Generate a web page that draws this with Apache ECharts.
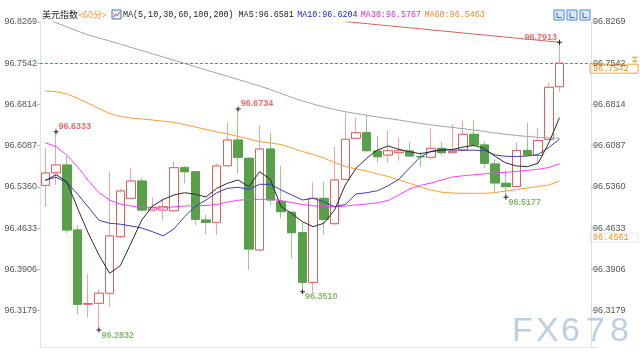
<!DOCTYPE html>
<html><head><meta charset="utf-8">
<script src="https://cdn.jsdelivr.net/npm/echarts@6/dist/echarts.min.js"></script>
<style>html,body{margin:0;padding:0;background:#fff}#c{width:640px;height:360px}</style>
</head><body><div id="c"></div>
<script>
// ---- data ----
const categories = Array.from({length: 52}, (_, i) => String(i + 1));
const opens  = [96.5387,96.5610,96.5746,96.4599,96.3290,96.3305,96.3482,96.4480,96.5158,96.5463,96.4951,96.4951,96.4939,96.5698,96.5627,96.4775,96.4734,96.5733,96.6187,96.5864,96.4246,96.6028,96.5098,96.4911,96.4551,96.3676,96.5158,96.4710,96.5493,96.6217,96.6316,96.5993,96.5922,96.5963,96.5993,96.5895,96.5882,96.6040,96.5963,96.6010,96.6287,96.6099,96.5763,96.5423,96.5366,96.6003,96.5913,96.6199,96.7127];
const closes = [96.5604,96.5746,96.4599,96.3288,96.3300,96.3482,96.4493,96.5287,96.5463,96.4951,96.4999,96.5010,96.5698,96.5627,96.4787,96.4734,96.5728,96.6187,96.5881,96.4263,96.6028,96.5128,96.4922,96.4551,96.3676,96.5158,96.4787,96.5481,96.6199,96.6316,96.5998,96.5892,96.5998,96.5998,96.5905,96.5890,96.6040,96.5963,96.5987,96.6287,96.6099,96.5776,96.5428,96.5363,96.6003,96.5922,96.6178,96.7117,96.7542];
const lows   = [96.5004,96.5393,96.4546,96.3116,96.3058,96.2832,96.3245,96.4452,96.5140,96.4922,96.4922,96.4757,96.4920,96.5423,96.4687,96.4528,96.4510,96.5710,96.5599,96.3893,96.4230,96.5040,96.4805,96.4099,96.3510,96.3482,96.4510,96.4690,96.5470,96.6210,96.5980,96.5776,96.5776,96.5822,96.5900,96.5705,96.5834,96.5922,96.5955,96.6000,96.6070,96.5687,96.5260,96.5177,96.5360,96.5910,96.5781,96.6180,96.7039];
const highs  = [96.6046,96.6333,96.5904,96.4687,96.3822,96.3552,96.5627,96.5317,96.5687,96.5522,96.5176,96.5163,96.5804,96.5728,96.5640,96.4863,96.5776,96.6499,96.6734,96.5880,96.6451,96.6316,96.5728,96.4940,96.4734,96.5440,96.5451,96.6069,96.6668,96.6580,96.6628,96.6263,96.6363,96.6235,96.6146,96.5980,96.6393,96.6151,96.6469,96.6531,96.6531,96.6169,96.5852,96.5657,96.6152,96.6496,96.6393,96.7198,96.7913];

const ma5   = [96.5469,96.5575,96.5451,96.4987,96.4546,96.4158,96.3835,96.3969,96.4369,96.4775,96.5022,96.5137,96.5216,96.5257,96.5229,96.5181,96.5335,96.5423,96.5481,96.5363,96.5627,96.5493,96.5010,96.4890,96.4745,96.4657,96.4717,96.4952,96.5393,96.5687,96.5864,96.6010,96.6081,96.6023,96.5980,96.5945,96.5980,96.6010,96.6019,96.6063,96.6090,96.6037,96.5896,96.5781,96.5728,96.5716,96.5776,96.6134,96.6581];
const ma10  = [96.5481,96.5529,96.5437,96.5234,96.5005,96.4770,96.4717,96.4701,96.4669,96.4634,96.4569,96.4496,96.4616,96.4833,96.5017,96.5128,96.5255,96.5335,96.5352,96.5317,96.5405,96.5405,96.5305,96.5216,96.5128,96.5158,96.5098,96.5010,96.5049,96.5234,96.5257,96.5292,96.5380,96.5493,96.5693,96.5887,96.5987,96.6016,96.6010,96.6007,96.6007,96.6002,96.5922,96.5899,96.5896,96.5904,96.5931,96.6054,96.6204];
const ma30  = [96.6139,96.6069,96.5922,96.5716,96.5472,96.5260,96.5128,96.5054,96.5022,96.4999,96.4987,96.4987,96.5008,96.5022,96.5031,96.5031,96.5049,96.5093,96.5123,96.5137,96.5140,96.5140,96.5119,96.5084,96.5049,96.5026,96.5013,96.5010,96.5022,96.5040,96.5057,96.5080,96.5119,96.5216,96.5322,96.5384,96.5428,96.5481,96.5534,96.5555,96.5573,96.5590,96.5605,96.5617,96.5631,96.5652,96.5670,96.5701,96.5767];
const ma60  = [96.7051,96.7039,96.6999,96.6923,96.6834,96.6743,96.6654,96.6602,96.6575,96.6557,96.6540,96.6519,96.6496,96.6460,96.6416,96.6372,96.6328,96.6293,96.6249,96.6204,96.6157,96.6134,96.6107,96.6046,96.5984,96.5931,96.5869,96.5790,96.5719,96.5675,96.5640,96.5587,96.5543,96.5481,96.5423,96.5357,96.5305,96.5264,96.5252,96.5246,96.5246,96.5246,96.5260,96.5287,96.5313,96.5340,96.5366,96.5393,96.5463];
const ma100 = [96.8331,96.8257,96.8184,96.8110,96.8040,96.7987,96.7934,96.7877,96.7821,96.7764,96.7708,96.7651,96.7595,96.7537,96.7480,96.7424,96.7367,96.7311,96.7254,96.7196,96.7140,96.7078,96.7007,96.6940,96.6875,96.6822,96.6769,96.6725,96.6686,96.6654,96.6623,96.6593,96.6566,96.6540,96.6510,96.6482,96.6452,96.6430,96.6409,96.6386,96.6363,96.6337,96.6310,96.6287,96.6266,96.6249,96.6234,96.6224,96.6217];
const ma200 = ['-','-','-','-','-','-','-','-','-','-','-','-','-','-','-','-','-','-','-','-','-','-','-','-','-','-','-','-',96.8276,96.8258,96.8241,96.8221,96.8204,96.8184,96.8167,96.8149,96.8130,96.8112,96.8094,96.8075,96.8057,96.8040,96.8020,96.8003,96.7983,96.7966,96.7948,96.7928,96.7911];

const yTicks = [96.3179,96.3906,96.4633,96.5360,96.6087,96.6814,96.7542,96.8269];
const yMin = 96.2534, yMax = 96.8269;
const lastPrice = 96.7542;
const refPrice = 96.4561;
const highMarks = [[1, 96.6333], [18, 96.6734]];
const lastHighMark = [48, 96.7913];
const lowMarks = [[5, 96.2832], [24, 96.3510], [43, 96.5177]];
const titleName = '美元指数';
const titlePeriod = '<60分>';
const maTitle = 'MA(5,10,30,60,100,200)';
const maLast = {MA5: '96.6581', MA10: '96.6204', MA30: '96.5767', MA60: '96.5463'};
const watermark = 'FX678';

// ---- chart ----
const UP = '#e05f5f', DOWN = '#59a04b';
const UP_WICK = '#f0a4a4', DOWN_WICK = '#96cc88';
const RED_TXT = '#e57070', GREEN_TXT = '#86bb70';
const plus = 'path://M0,1.6H4V2.4H0Z M1.6,0H2.4V4H1.6Z';

const chart = echarts.init(document.getElementById('c'), null, {renderer: 'canvas'});
const axisCommon = {
  type: 'value', min: yMin, max: yMax,
  splitLine: {show: false},
  axisLine: {show: true, lineStyle: {color: '#d5dbe6', type: 'dotted'}},
  axisTick: {show: true, customValues: yTicks, length: 3, lineStyle: {color: '#b8c0cc'}},
  axisLabel: {customValues: yTicks, formatter: v => v.toFixed(4), color: '#555', fontSize: 9,
              fontFamily: 'Liberation Sans'}
};
const mp = (arr, color, pos, dy) => arr.map(([i, v]) => ({
  coord: [i, v], value: v,
  label: {show: true, position: pos, distance: 0, offset: [0, dy], color: color,
          fontSize: 9, fontWeight: 'bold', fontFamily: 'Liberation Sans',
          formatter: p => p.value.toFixed(4)}
}));
const line = (name, data, color) => ({
  name, type: 'line', data, symbol: 'none', smooth: false, z: 3,
  lineStyle: {color, width: 1}, itemStyle: {color}
});

chart.setOption({
  animation: false,
  grid: {left: 40, right: 43, top: 22, bottom: 13},
  xAxis: {type: 'category', data: categories, boundaryGap: true,
          axisLabel: {show: false}, axisTick: {show: false},
          axisLine: {lineStyle: {color: '#dfe3ea'}}, splitLine: {show: false}},
  yAxis: [
    Object.assign({}, axisCommon, {position: 'left', axisLabel: Object.assign({}, axisCommon.axisLabel, {margin: 3})}),
    Object.assign({}, axisCommon, {position: 'right', offset: -6, axisLabel: Object.assign({}, axisCommon.axisLabel, {margin: 2})})
  ],
  series: [
    {
      // full candles: wicks drawn in a lighter tone
      name: 'Kwick', type: 'candlestick', barWidth: 9, z: 2,
      data: opens.map((o, i) => [o, closes[i], lows[i], highs[i]]),
      itemStyle: {color: '#ffffff', color0: DOWN_WICK, borderColor: UP_WICK, borderColor0: DOWN_WICK, borderWidth: 1},
      markPoint: {symbol: plus, symbolSize: 5, itemStyle: {color: '#222'}, animation: false,
                  data: [].concat(mp(highMarks, RED_TXT, 'right', -5),
                                  mp([lastHighMark], RED_TXT, 'left', -5),
                                  mp(lowMarks, GREEN_TXT, 'right', 5))}
    },
    {
      // bodies drawn on top in the stronger tone
      name: 'K', type: 'candlestick', barWidth: 9, z: 2,
      data: opens.map((o, i) => [o, closes[i], Math.min(o, closes[i]), Math.max(o, closes[i])]),
      itemStyle: {color: '#ffffff', color0: DOWN, borderColor: UP, borderColor0: DOWN, borderWidth: 1}
    },
    line('MA200', ma200, '#d9605a'),
    line('MA100', ma100, '#a3a3a3'),
    line('MA60', ma60, '#ff9a33'),
    line('MA30', ma30, '#ff3dff'),
    line('MA10', ma10, '#3c3cb4'),
    line('MA5', ma5, '#2a2a2a')
  ]
});

// ---- annotations (price line, text, icons) ----
const yLast = chart.convertToPixel({yAxisIndex: 0}, lastPrice);
const yRef = chart.convertToPixel({yAxisIndex: 0}, refPrice);
const gridLeft = chart.convertToPixel({xAxisIndex: 0}, 0) - 5.35;
const mono = 'Liberation Mono';
const yLine = Math.round(yLast) + 0.5;
const priceBox = (y, label, stroke) => ({
  type: 'group', x: 590, y: y + 1, z: 50, children: [
    {type: 'rect', shape: {x: 0, y: 0, width: 48, height: 9}, style: {fill: '#fff', stroke: stroke, lineWidth: 1}},
    {type: 'text', x: 3, y: 5, style: {text: label, fill: '#f08c1a', font: '8.5px ' + mono, verticalAlign: 'middle'}}
  ]
});
const icon = (x) => ({
  type: 'group', x: x, y: 10, z: 50, children: [
    {type: 'rect', shape: {x: 0, y: 0, width: 10, height: 10}, style: {fill: '#dce9f8', stroke: '#4a88d2', lineWidth: 1}},
    {type: 'line', shape: {x1: 3, y1: 2.5, x2: 3, y2: 7.5}, style: {stroke: '#2f6fc0', lineWidth: 1}},
    {type: 'line', shape: {x1: 3, y1: 7.5, x2: 7.5, y2: 7.5}, style: {stroke: '#2f6fc0', lineWidth: 1}}
  ]
});
const wmX = [512, 536, 561, 586, 610];
chart.setOption({graphic: [
  {type: 'line', z: 4, silent: true, shape: {x1: gridLeft, y1: yLine, x2: 591, y2: yLine},
   style: {stroke: '#3a8ff0', lineWidth: 1, lineDash: [3, 2]}},
  {type: 'text', x: 42, y: 15, z: 50, style: {
    text: '{a|' + titleName + '}{b|' + titlePeriod + '}{ic|}{m|' + maTitle + ' MA5:' + maLast.MA5 + '} {c|MA10:' + maLast.MA10 + '} {d|MA30:' + maLast.MA30 + '} {e|MA60:' + maLast.MA60 + '}',
    verticalAlign: 'middle',
    rich: {
      a: {fill: '#222', font: '9px "Noto Sans CJK SC"'},
      b: {fill: '#f39a2c', font: '9px "Noto Sans CJK SC"'},
      ic: {width: 16},
      m: {fill: '#222', font: '8.4px ' + mono},
      c: {fill: '#2020c8', font: '8.4px ' + mono},
      d: {fill: '#e020e0', font: '8.4px ' + mono},
      e: {fill: '#f08a1a', font: '8.4px ' + mono}
    }
  }},
  {type: 'group', x: 112, y: 10, z: 50, children: [
    {type: 'rect', shape: {x: 0, y: 0, width: 9, height: 9}, style: {fill: '#eef3fb', stroke: '#4a6fc8', lineWidth: 1}},
    {type: 'polyline', shape: {points: [[1.5, 7], [3.5, 4], [5.5, 5.5], [7.5, 2]]}, style: {stroke: '#d04040', fill: null, lineWidth: 1}}
  ]},
  icon(554), icon(567), icon(580),
  priceBox(yLast, lastPrice.toFixed(4), '#f5a43a'),
  priceBox(yRef, refPrice.toFixed(4), '#e3e6ea'),
  {type: 'group', x: 632, y: yLast - 6, z: 50, children: [
    {type: 'line', shape: {x1: 0, y1: 0, x2: 6, y2: 0}, style: {stroke: '#f39a2c'}},
    {type: 'line', shape: {x1: 3, y1: 0, x2: 3, y2: 6}, style: {stroke: '#f39a2c'}},
    {type: 'line', shape: {x1: 0, y1: 4, x2: 6, y2: 4}, style: {stroke: '#f39a2c'}}
  ]}
].concat(watermark.split('').map((ch, k) => ({
  type: 'text', x: wmX[k], y: 332, z: 60, silent: true,
  style: {text: ch, fill: '#bccfe3', font: '34px "Liberation Sans"', verticalAlign: 'middle'}
})))});
</script></body></html>
